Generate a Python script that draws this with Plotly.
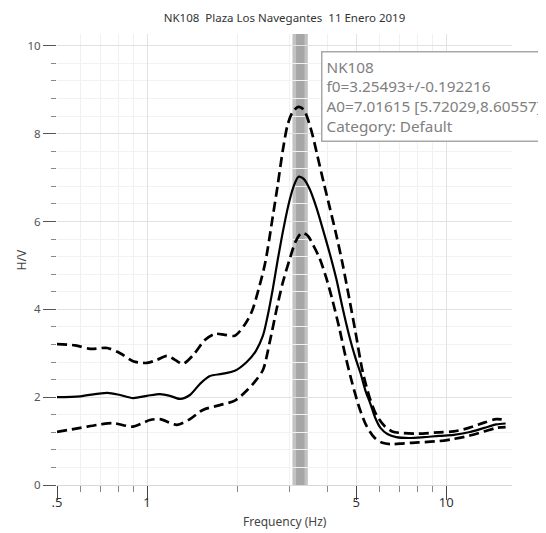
import numpy as np
import plotly.graph_objects as go

# ---- data ----
title_text = "NK108  Plaza Los Navegantes  11 Enero 2019"
station = "NK108"
f0 = 3.25493
f0_std = 0.192216
A0 = 7.01615
A0_low = 5.72029
A0_high = 8.60557
category = "Default"

freq_mean = [0.5, 0.598, 0.736, 0.813, 0.898, 1.0, 1.105, 1.193, 1.29, 1.391, 1.502, 1.622, 1.778, 1.965,
             2.154, 2.31, 2.44, 2.53, 2.63, 2.73, 2.86, 3.0, 3.11, 3.21, 3.34, 3.49, 3.69, 3.86, 4.07, 4.29,
             4.5, 4.74, 4.97, 5.17, 5.37, 5.58, 5.8, 6.03, 6.36, 6.81, 7.52, 8.43, 9.47, 10.6, 11.9, 13.4,
             14.7, 15.8]
hv_mean = [2.00, 2.02, 2.10, 2.05, 1.98, 2.03, 2.07, 2.03, 1.96, 2.05, 2.30, 2.48, 2.53, 2.60,
           2.80, 3.05, 3.40, 3.85, 4.45, 5.10, 5.85, 6.50, 6.85, 7.02, 6.97, 6.75, 6.30, 5.85, 5.30, 4.70,
           4.05, 3.40, 2.90, 2.55, 2.15, 1.85, 1.52, 1.30, 1.16, 1.09, 1.07, 1.09, 1.12, 1.14, 1.20, 1.30,
           1.38, 1.40]

freq_up = [0.5, 0.575, 0.646, 0.736, 0.813, 0.898, 1.0, 1.08, 1.166, 1.24, 1.318, 1.423, 1.56, 1.685,
           1.82, 1.965, 2.12, 2.24, 2.38, 2.49, 2.63, 2.73, 2.84, 2.95, 3.07, 3.21, 3.34, 3.44, 3.58, 3.71,
           3.89, 4.07, 4.29, 4.5, 4.74, 4.97, 5.25, 5.54, 5.84, 6.21, 6.6, 7.23, 8.1, 9.47, 10.6, 11.9,
           13.4, 14.7, 15.8]
hv_up = [3.21, 3.18, 3.10, 3.12, 3.00, 2.82, 2.78, 2.85, 2.94, 2.85, 2.76, 2.95, 3.30, 3.44,
         3.42, 3.40, 3.65, 3.95, 4.55, 5.10, 6.10, 6.80, 7.60, 8.20, 8.50, 8.61, 8.55, 8.35, 7.95, 7.50,
         6.90, 6.35, 5.70, 5.05, 4.25, 3.50, 2.60, 2.00, 1.60, 1.35, 1.22, 1.18, 1.17, 1.20, 1.22, 1.30,
         1.42, 1.50, 1.48]

freq_low = [0.5, 0.598, 0.697, 0.77, 0.898, 1.023, 1.105, 1.259, 1.391, 1.537, 1.75, 1.965, 2.154,
            2.29, 2.44, 2.57, 2.71, 2.84, 3.0, 3.14, 3.29, 3.44, 3.6, 3.78, 3.98, 4.17, 4.4, 4.6, 4.86,
            5.13, 5.41, 5.75, 6.12, 6.6, 7.23, 8.1, 9.47, 10.6, 11.9, 13.4, 14.7, 15.8]
hv_low = [1.21, 1.30, 1.38, 1.41, 1.33, 1.48, 1.50, 1.37, 1.50, 1.71, 1.82, 1.92, 2.15,
          2.35, 2.62, 3.25, 4.00, 4.60, 5.15, 5.55, 5.74, 5.68, 5.45, 5.15, 4.70, 4.20, 3.55, 2.95, 2.30,
          1.75, 1.35, 1.08, 0.96, 0.93, 0.95, 0.97, 1.00, 1.05, 1.12, 1.22, 1.30, 1.32]

x_tickvals = [0.5, 1, 5, 10]
x_ticktext = [".5", "1", "5", "10"]
x_minor = [0.6, 0.7, 0.8, 0.9, 2, 3, 4, 6, 7, 8, 9]
y_tickvals = [0, 2, 4, 6, 8, 10]

FONT = "Noto Sans"
y_top = 10.27

fig = go.Figure()

# f0 band (f0 +/- std)
fig.add_vrect(x0=f0 - f0_std, x1=f0 + f0_std, fillcolor="#c2c2c2", line_width=0,
              layer="below", opacity=1)
fig.add_vrect(x0=f0 - 0.55 * f0_std, x1=f0 + 0.55 * f0_std, fillcolor="#a6a6a6", line_width=0,
              layer="below", opacity=1)

dash_line = dict(color="black", width=2.7, dash="10px,5px", shape="spline", smoothing=0.8)
fig.add_trace(go.Scatter(x=freq_up, y=hv_up, mode="lines", line=dash_line,
                         showlegend=False, hoverinfo="skip"))
fig.add_trace(go.Scatter(x=freq_low, y=hv_low, mode="lines", line=dash_line,
                         showlegend=False, hoverinfo="skip"))
fig.add_trace(go.Scatter(x=freq_mean, y=hv_mean, mode="lines",
                         line=dict(color="black", width=2.2, shape="spline", smoothing=0.8),
                         showlegend=False, hoverinfo="skip"))

legend_text = "<br>".join([
    station,
    f"f0={f0}+/-{f0_std}",
    f"A0={A0} [{A0_low},{A0_high}]",
    f"Category: {category}",
])
fig.add_annotation(xref="paper", yref="paper", x=0.58, y=0.962, xanchor="left", yanchor="top",
                   text=legend_text, showarrow=False, align="left",
                   font=dict(family=FONT, size=15.3, color="#808080"),
                   bgcolor="white", bordercolor="#a8a8a8", borderwidth=1.5, borderpad=4)

fig.add_annotation(xref="paper", yref="paper", x=0.5, y=-0.082, text="Frequency (Hz)", showarrow=False,
                   font=dict(family=FONT, size=12, color="#444"), yanchor="middle")
fig.add_annotation(xref="paper", yref="paper", x=-0.077, y=0.5, text="H/V", showarrow=False, textangle=-90,
                   font=dict(family=FONT, size=12, color="#444"), xanchor="center")

fig.update_layout(
    width=538, height=525,
    margin=dict(l=49, r=34, t=26, b=48),
    paper_bgcolor="white", plot_bgcolor="white",
    title=dict(text=title_text, x=0.5, xref="paper", y=0.981, yanchor="middle", xanchor="center",
               font=dict(family=FONT, size=11.5, color="#333")),
    font=dict(family=FONT, size=12, color="#444"),
)
fig.update_xaxes(type="log", range=[np.log10(0.5), 1.22],
                 tickmode="array", tickvals=x_tickvals, ticktext=x_ticktext,
                 ticks="outside", ticklen=14, tickwidth=1.2, tickcolor="#444",
                 ticklabelstandoff=-9,
                 tickfont=dict(family=FONT, size=13, color="#333"),
                 showgrid=True, gridcolor="#e2e2e2", gridwidth=1,
                 showline=True, linecolor="#d8d8d8", linewidth=1, zeroline=False,
                 minor=dict(tickmode="array", tickvals=x_minor, ticks="outside", ticklen=6,
                            tickcolor="#888", showgrid=True, gridcolor="#f0f0f0"))
fig.update_yaxes(range=[0, y_top], tickmode="array", tickvals=y_tickvals,
                 ticks="outside", ticklen=13, tickwidth=1.2, tickcolor="#555",
                 tickfont=dict(family=FONT, size=11.5, color="#555"),
                 showgrid=True, gridcolor="#e2e2e2", zeroline=False, showline=False,
                 minor=dict(dtick=0.4, tick0=0, ticks="outside", ticklen=5, tickcolor="#888",
                            showgrid=True, gridcolor="#f2f2f2"))

fig.write_html("out.html")
